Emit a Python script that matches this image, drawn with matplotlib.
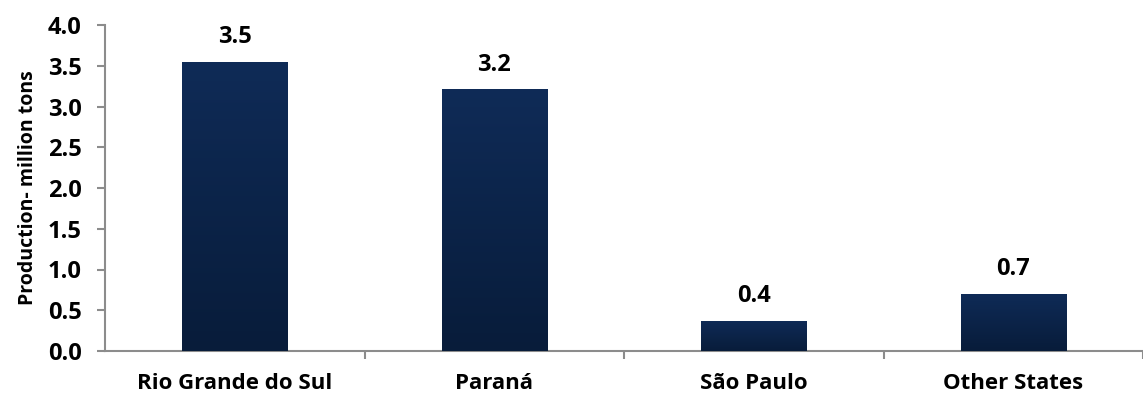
import numpy as np
import matplotlib.pyplot as plt
from matplotlib.colors import LinearSegmentedColormap

states = ["Rio Grande do Sul", "Paraná", "São Paulo", "Other States"]
production = [3.55, 3.21, 0.37, 0.70]  # million tons

plt.rcParams['font.family'] = ['Open Sans', 'DejaVu Sans']
plt.rcParams['font.weight'] = 'bold'

fig = plt.figure(figsize=(11.43, 3.94), dpi=100)
ax = fig.add_axes([105 / 1143, 43 / 394, 1 - 105 / 1143, 326 / 394])

x = np.arange(len(states))
width = 0.405
bars = ax.bar(x, production, width=width, color="#0d2650", zorder=2)

# vertical gradient inside each bar, darker toward the baseline
cmap = LinearSegmentedColormap.from_list("navy", ["#081c3a", "#0f2b57"])
grad = np.linspace(0, 1, 256).reshape(-1, 1)
for b in bars:
    x0, w, h = b.get_x(), b.get_width(), b.get_height()
    im = ax.imshow(grad, cmap=cmap, origin="lower", aspect="auto",
                   extent=[x0, x0 + w, 0, h], zorder=3)
    im.set_clip_path(b)
    ax.annotate(f"{h:.1f}", (x0 + w / 2, h), xytext=(0, 9),
                textcoords="offset points", ha="center", va="bottom",
                fontsize=17, fontweight="bold")

ax.set_xlim(-0.5, 3.466)
ax.set_ylim(0, 4.0)
ax.set_yticks(np.arange(0, 4.01, 0.5))
ax.yaxis.set_major_formatter(plt.FormatStrFormatter("%.1f"))
ax.set_ylabel("Production- million tons", fontsize=14, fontweight="bold", labelpad=7)

# category boundaries get the tick marks, labels sit at bar centres
ax.set_xticks(x)
ax.set_xticklabels(states)
ax.set_xticks(np.arange(0.5, len(states), 1.0), minor=True)
ax.tick_params(axis="x", which="major", length=0, pad=16, labelsize=16)
ax.tick_params(axis="x", which="minor", length=6, width=1.5, color="#8c8c8c", direction="out")
ax.tick_params(axis="y", length=6, width=1.5, color="#8c8c8c", labelsize=17, pad=11)

for side in ["top", "right"]:
    ax.spines[side].set_visible(False)
for side in ["left", "bottom"]:
    ax.spines[side].set_color("#8c8c8c")
    ax.spines[side].set_linewidth(1.5)

fig.savefig("out.png", dpi=100)
